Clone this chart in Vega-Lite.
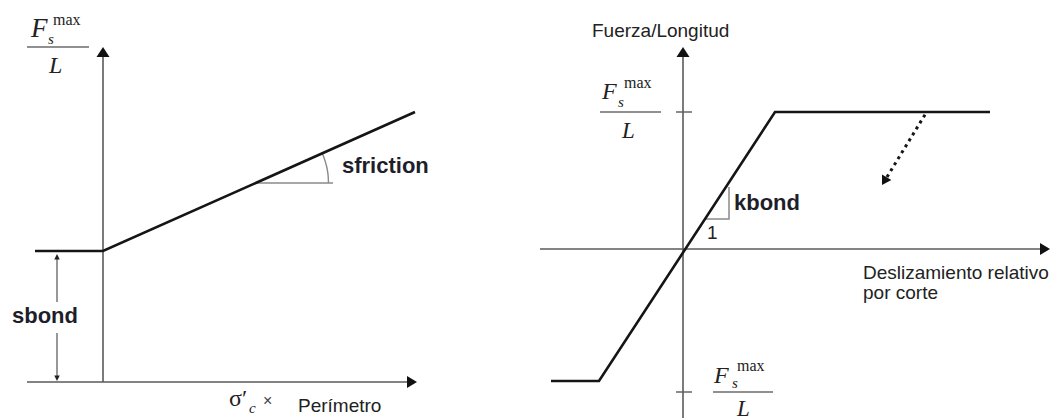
{
  "$schema": "https://vega.github.io/schema/vega-lite/v6.json",
  "background": "white",
  "padding": 0,
  "spacing": 0,
  "config": {"view": {"stroke": null}},
  "hconcat": [
    {
      "width": 470,
      "height": 419,
      "encoding": {
        "x": {"field": "x", "type": "quantitative", "axis": null, "scale": {"domain": [-103, 367], "nice": false, "zero": false}},
        "y": {"field": "y", "type": "quantitative", "axis": null, "scale": {"domain": [-37, 382], "nice": false, "zero": false}}
      },
      "layer": [
        {
          "data": {"values": [
            {"seg": "y", "x": 0, "y": 0}, {"seg": "y", "x": 0, "y": 330},
            {"seg": "x", "x": -76, "y": 0}, {"seg": "x", "x": 306, "y": 0}
          ]},
          "mark": {"type": "line", "color": "#5a5a5a", "strokeWidth": 1.6},
          "encoding": {"detail": {"field": "seg"}}
        },
        {
          "data": {"values": [
            {"seg": "upper", "x": -46, "y": 80}, {"seg": "upper", "x": -46, "y": 124},
            {"seg": "lower", "x": -46, "y": 49}, {"seg": "lower", "x": -46, "y": 5}
          ]},
          "mark": {"type": "line", "color": "#444", "strokeWidth": 1.1},
          "encoding": {"detail": {"field": "seg"}}
        },
        {
          "data": {"values": [{"x": 152, "y": 199}, {"x": 230, "y": 199}]},
          "mark": {"type": "line", "color": "#8a8a8a", "strokeWidth": 1.6}
        },
        {
          "data": {"values": [
            {"x": 225.5, "y": 199}, {"x": 225.2, "y": 205.4}, {"x": 224.4, "y": 211.7},
            {"x": 223.0, "y": 217.9}, {"x": 221.1, "y": 224.0}, {"x": 219.2, "y": 228.7}
          ]},
          "mark": {"type": "line", "color": "#8a8a8a", "strokeWidth": 1.4, "interpolate": "monotone"}
        },
        {
          "data": {"values": [{"x": -68, "y": 131}, {"x": 0, "y": 131}, {"x": 312, "y": 270}]},
          "mark": {"type": "line", "color": "#151515", "strokeWidth": 2.6}
        },
        {
          "data": {"values": [{"x": 0, "y": 335}]},
          "mark": {"type": "point", "shape": "M0,0L-0.65,1L0.65,1Z", "size": 400, "filled": true, "opacity": 1, "color": "#111", "angle": 0}
        },
        {
          "data": {"values": [{"x": 314, "y": 0}]},
          "mark": {"type": "point", "shape": "M0,0L-0.6,1L0.6,1Z", "size": 400, "filled": true, "opacity": 1, "color": "#111", "angle": 90}
        },
        {
          "data": {"values": [{"x": -46, "y": 128}]},
          "mark": {"type": "point", "shape": "M0,0L-0.5,1L0.5,1Z", "size": 120, "filled": true, "opacity": 1, "color": "#222", "angle": 0}
        },
        {
          "data": {"values": [{"x": -46, "y": 1}]},
          "mark": {"type": "point", "shape": "M0,0L-0.5,1L0.5,1Z", "size": 120, "filled": true, "opacity": 1, "color": "#222", "angle": 180}
        },
        {
          "data": {"values": [{"x": -76, "y": 335}, {"x": -14, "y": 335}]},
          "mark": {"type": "line", "color": "#222", "strokeWidth": 1.2}
        },
        {
          "data": {"values": [{"label": "sfriction", "x": 239, "y": 209}, {"label": "sbond", "x": -91, "y": 59}]},
          "mark": {"type": "text", "font": "Liberation Sans", "fontWeight": "bold", "fontSize": 22, "align": "left", "baseline": "alphabetic", "color": "#1e1e2a"},
          "encoding": {"text": {"field": "label"}}
        },
        {
          "data": {"values": [{"label": "Perímetro", "x": 195, "y": -30}]},
          "mark": {"type": "text", "font": "Liberation Sans", "fontSize": 19, "align": "left", "baseline": "alphabetic", "color": "#222"},
          "encoding": {"text": {"field": "label"}}
        },
        {
          "data": {"values": [{"label": "×", "x": 160, "y": -24}]},
          "mark": {"type": "text", "font": "Liberation Sans", "fontSize": 16, "align": "left", "baseline": "alphabetic", "color": "#444"},
          "encoding": {"text": {"field": "label"}}
        },
        {
          "data": {"values": [{"label": "σ′", "x": 126, "y": -24}]},
          "mark": {"type": "text", "font": "Liberation Serif", "fontSize": 24, "align": "left", "baseline": "alphabetic", "color": "#222"},
          "encoding": {"text": {"field": "label"}}
        },
        {
          "data": {"values": [{"label": "c", "x": 146, "y": -31}, {"label": "s", "x": -55, "y": 338}]},
          "mark": {"type": "text", "font": "Liberation Serif", "fontStyle": "italic", "fontSize": 15, "align": "left", "baseline": "alphabetic", "color": "#222"},
          "encoding": {"text": {"field": "label"}}
        },
        {
          "data": {"values": [{"label": "F", "x": -72, "y": 345}]},
          "mark": {"type": "text", "font": "Liberation Serif", "fontStyle": "italic", "fontSize": 27, "align": "left", "baseline": "alphabetic", "color": "#222"},
          "encoding": {"text": {"field": "label"}}
        },
        {
          "data": {"values": [{"label": "L", "x": -54, "y": 309}]},
          "mark": {"type": "text", "font": "Liberation Serif", "fontStyle": "italic", "fontSize": 24, "align": "left", "baseline": "alphabetic", "color": "#222"},
          "encoding": {"text": {"field": "label"}}
        },
        {
          "data": {"values": [{"label": "max", "x": -50, "y": 357}]},
          "mark": {"type": "text", "font": "Liberation Serif", "fontSize": 16, "align": "left", "baseline": "alphabetic", "color": "#222"},
          "encoding": {"text": {"field": "label"}}
        }
      ]
    },
    {
      "width": 581,
      "height": 419,
      "encoding": {
        "x": {"field": "x", "type": "quantitative", "axis": null, "scale": {"domain": [-213, 368], "nice": false, "zero": false}},
        "y": {"field": "y", "type": "quantitative", "axis": null, "scale": {"domain": [-170, 249], "nice": false, "zero": false}}
      },
      "layer": [
        {
          "data": {"values": [
            {"seg": "y", "x": 0, "y": -169}, {"seg": "y", "x": 0, "y": 196},
            {"seg": "x", "x": -143, "y": 0}, {"seg": "x", "x": 360, "y": 0}
          ]},
          "mark": {"type": "line", "color": "#5a5a5a", "strokeWidth": 1.6},
          "encoding": {"detail": {"field": "seg"}}
        },
        {
          "data": {"values": [
            {"seg": "top", "x": -7, "y": 137}, {"seg": "top", "x": 9, "y": 137},
            {"seg": "bottom", "x": -7, "y": -143}, {"seg": "bottom", "x": 9, "y": -143}
          ]},
          "mark": {"type": "line", "color": "#5a5a5a", "strokeWidth": 1.4},
          "encoding": {"detail": {"field": "seg"}}
        },
        {
          "data": {"values": [{"step": 1, "x": 22, "y": 30}, {"step": 2, "x": 46, "y": 30}, {"step": 3, "x": 46, "y": 62}]},
          "mark": {"type": "line", "color": "#8a8a8a", "strokeWidth": 1.5},
          "encoding": {"order": {"field": "step"}}
        },
        {
          "data": {"values": [{"x": -132, "y": -132}, {"x": -84, "y": -132}, {"x": 92, "y": 137}, {"x": 307, "y": 137}]},
          "mark": {"type": "line", "color": "#151515", "strokeWidth": 2.6}
        },
        {
          "data": {"values": [{"x": 243, "y": 136}, {"x": 204, "y": 72}]},
          "mark": {"type": "line", "color": "#151515", "strokeWidth": 3, "strokeDash": [3, 4]}
        },
        {
          "data": {"values": [{"x": 0, "y": 202}]},
          "mark": {"type": "point", "shape": "M0,0L-0.65,1L0.65,1Z", "size": 400, "filled": true, "opacity": 1, "color": "#111", "angle": 0}
        },
        {
          "data": {"values": [{"x": 367, "y": 0}]},
          "mark": {"type": "point", "shape": "M0,0L-0.6,1L0.6,1Z", "size": 400, "filled": true, "opacity": 1, "color": "#111", "angle": 90}
        },
        {
          "data": {"values": [{"x": 199, "y": 64}]},
          "mark": {"type": "point", "shape": "M0,0L-0.6,1L0.6,1Z", "size": 330, "filled": true, "opacity": 1, "color": "#111", "angle": 211}
        },
        {
          "data": {"values": [
            {"seg": "top", "x": -83, "y": 137}, {"seg": "top", "x": -22, "y": 137},
            {"seg": "bottom", "x": 30, "y": -143}, {"seg": "bottom", "x": 90, "y": -143}
          ]},
          "mark": {"type": "line", "color": "#222", "strokeWidth": 1.2},
          "encoding": {"detail": {"field": "seg"}}
        },
        {
          "data": {"values": [{"label": "kbond", "x": 51, "y": 39}]},
          "mark": {"type": "text", "font": "Liberation Sans", "fontWeight": "bold", "fontSize": 22, "align": "left", "baseline": "alphabetic", "color": "#1e1e2a"},
          "encoding": {"text": {"field": "label"}}
        },
        {
          "data": {"values": [
            {"label": "Fuerza/Longitud", "x": -91, "y": 212},
            {"label": "Deslizamiento relativo", "x": 180, "y": -30},
            {"label": "por corte", "x": 180, "y": -50},
            {"label": "1", "x": 24, "y": 10}
          ]},
          "mark": {"type": "text", "font": "Liberation Sans", "fontSize": 19, "align": "left", "baseline": "alphabetic", "color": "#222"},
          "encoding": {"text": {"field": "label"}}
        },
        {
          "data": {"values": [{"label": "F", "x": -81, "y": 150}, {"label": "F", "x": 31, "y": -134}]},
          "mark": {"type": "text", "font": "Liberation Serif", "fontStyle": "italic", "fontSize": 24, "align": "left", "baseline": "alphabetic", "color": "#222"},
          "encoding": {"text": {"field": "label"}}
        },
        {
          "data": {"values": [{"label": "max", "x": -59, "y": 161}, {"label": "max", "x": 54, "y": -122}]},
          "mark": {"type": "text", "font": "Liberation Serif", "fontSize": 16, "align": "left", "baseline": "alphabetic", "color": "#222"},
          "encoding": {"text": {"field": "label"}}
        },
        {
          "data": {"values": [{"label": "s", "x": -65, "y": 142}, {"label": "s", "x": 49, "y": -139}]},
          "mark": {"type": "text", "font": "Liberation Serif", "fontStyle": "italic", "fontSize": 15, "align": "left", "baseline": "alphabetic", "color": "#222"},
          "encoding": {"text": {"field": "label"}}
        },
        {
          "data": {"values": [{"label": "L", "x": -61, "y": 111}, {"label": "L", "x": 54, "y": -167}]},
          "mark": {"type": "text", "font": "Liberation Serif", "fontStyle": "italic", "fontSize": 23, "align": "left", "baseline": "alphabetic", "color": "#222", "clip": true},
          "encoding": {"text": {"field": "label"}}
        }
      ]
    }
  ]
}
